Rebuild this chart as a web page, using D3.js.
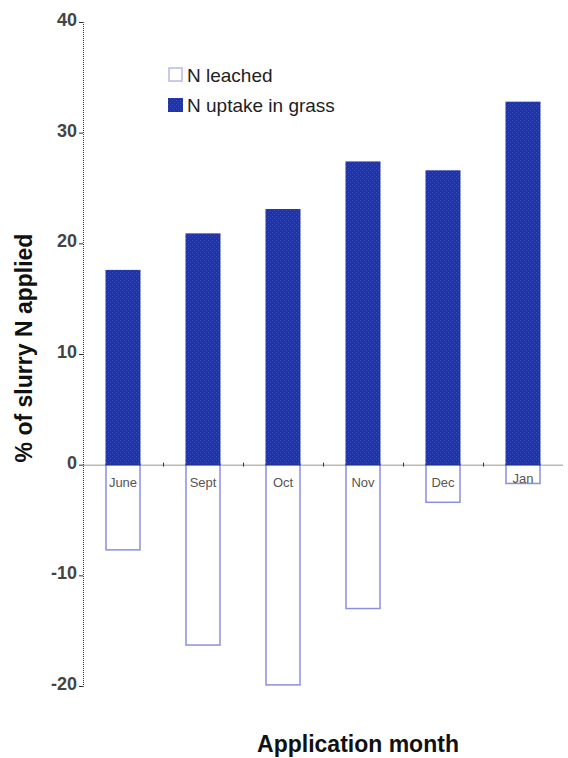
<!DOCTYPE html>
<html><head><meta charset="utf-8">
<script src="https://cdn.jsdelivr.net/npm/d3@7"></script>
<style>body{margin:0;background:#fff}svg{display:block}</style>
</head><body>
<script>
const months = ["June","Sept","Oct","Nov","Dec","Jan"];
const uptake = [17.6, 20.9, 23.1, 27.4, 26.6, 32.8];
const leached = [-7.7, -16.3, -19.9, -13.0, -3.4, -1.7];
const yTicks = [-20, -10, 0, 10, 20, 30, 40];
const seriesNames = ["N leached", "N uptake in grass"];

const W = 568, H = 758;
const FONT = "Liberation Sans, Arial, sans-serif";
const svg = d3.select("body").append("svg").attr("width", W).attr("height", H);
const defs = svg.append("defs");
const pat = defs.append("pattern").attr("id","dith").attr("width",4).attr("height",4).attr("patternUnits","userSpaceOnUse");
pat.append("rect").attr("width",4).attr("height",4).attr("fill","#22339f");
pat.append("rect").attr("x",0).attr("y",0).attr("width",1).attr("height",1).attr("fill","#3a52c4");
pat.append("rect").attr("x",2).attr("y",2).attr("width",1).attr("height",1).attr("fill","#3a52c4");

const x = d3.scaleBand().domain(months).range([83, 563]).paddingInner(0.5625).paddingOuter(0.28125);
const y = d3.scaleLinear().domain([-20, 40]).range([686, 22]);

// bars
svg.selectAll(".up").data(months).join("rect")
  .attr("x", d => x(d)).attr("width", x.bandwidth())
  .attr("y", (d,i) => y(uptake[i])).attr("height", (d,i) => y(0) - y(uptake[i]))
  .attr("fill", "url(#dith)");
svg.selectAll(".le").data(months).join("rect")
  .attr("x", d => x(d)+0.5).attr("width", x.bandwidth()-1)
  .attr("y", y(0)).attr("height", (d,i) => y(leached[i]) - y(0))
  .attr("fill", "#fff").attr("stroke", "#8c8ee0").attr("stroke-width", 1.5);

// category labels
svg.selectAll(".cl").data(months).join("text")
  .attr("x", d => x(d) + x.bandwidth()/2).attr("y", (d,i) => i === 5 ? 483 : 487)
  .attr("text-anchor","middle").attr("font-family",FONT)
  .attr("font-size", 13).attr("fill","#555").text(d => d);

// y axis
const yAxis = d3.axisLeft(y).tickValues(yTicks).tickSize(4).tickPadding(2).tickFormat(d => String(d));
const ga = svg.append("g").attr("transform","translate(83,0)").call(yAxis);
ga.select(".domain").attr("stroke","#333").attr("stroke-dasharray","1,1");
ga.selectAll(".tick line").attr("stroke","#333");
ga.selectAll(".tick text").attr("font-family",FONT).attr("font-size",18).attr("font-weight","bold")
  .attr("fill","#444").attr("dy","0.2em");

// x axis at zero
const xAxisScale = d3.scaleLinear().domain([0, months.length]).range([83, 563]);
const gx = svg.append("g").attr("transform",`translate(0,${y(0)})`)
  .call(d3.axisBottom(xAxisScale).tickValues(d3.range(1, months.length)).tickSize(0).tickFormat(""));
gx.select(".domain").attr("stroke","#333").attr("stroke-dasharray","1,1");
gx.selectAll(".tick").append("line").attr("y1",-2).attr("y2",2).attr("stroke","#333");
svg.selectAll(".upre").data(months).join("rect")
  .attr("x", d => x(d)).attr("width", x.bandwidth()).attr("y", y(0)-1).attr("height", 1.5).attr("fill","#22339f");

// legend
const lg = svg.append("g");
lg.append("rect").attr("x",169).attr("y",68).attr("width",13).attr("height",13).attr("fill","#fff").attr("stroke","#b8b8e8").attr("stroke-width",1.5);
lg.append("rect").attr("x",168).attr("y",98).attr("width",15).attr("height",14).attr("fill","url(#dith)");
lg.selectAll("text").data(seriesNames).join("text")
  .attr("x",187).attr("y",(d,i)=> i ? 112 : 82)
  .attr("font-family",FONT).attr("font-size",19).attr("fill","#222").text(d=>d);

// titles
svg.append("text").attr("transform","translate(32,348) rotate(-90)").attr("text-anchor","middle")
  .attr("font-family",FONT).attr("font-weight","bold").attr("font-size",23).attr("fill","#111")
  .text("% of slurry N applied");
svg.append("text").attr("x",358).attr("y",752).attr("text-anchor","middle")
  .attr("font-family",FONT).attr("font-weight","bold").attr("font-size",23).attr("fill","#111")
  .text("Application month");
</script>
</body></html>
